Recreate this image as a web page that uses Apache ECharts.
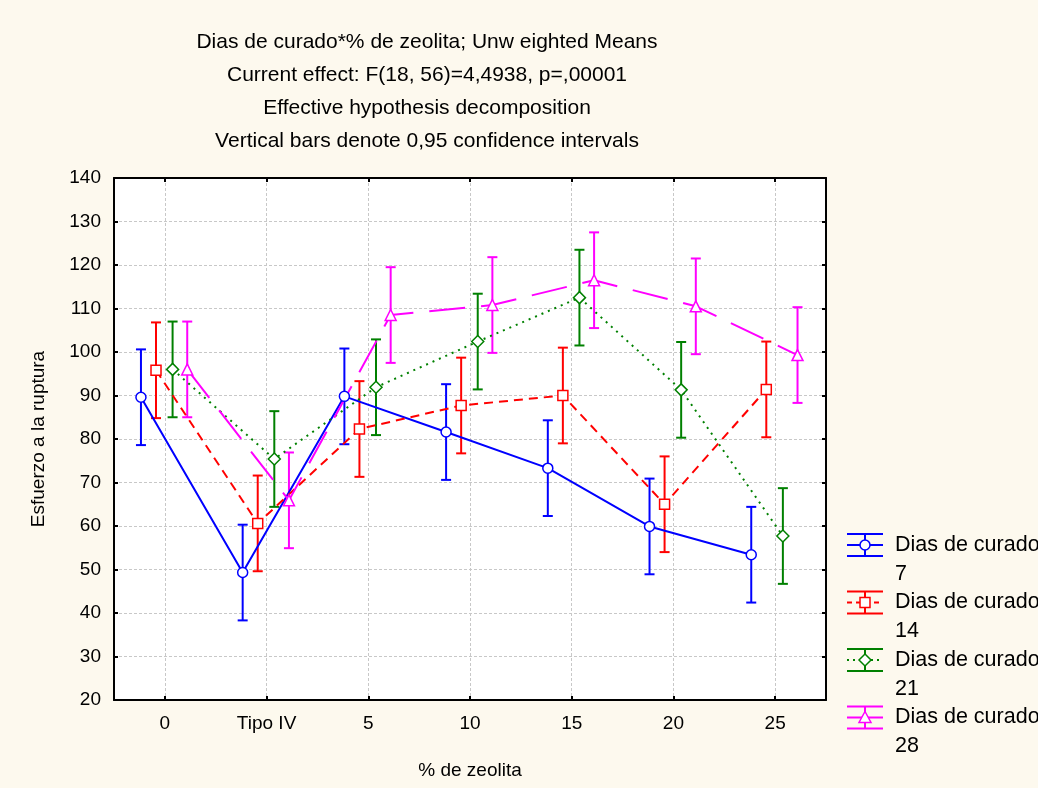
<!DOCTYPE html>
<html>
<head>
<meta charset="utf-8">
<script src="https://cdn.jsdelivr.net/npm/echarts@6/dist/echarts.min.js"></script>
<style>
html,body{margin:0;padding:0;background:#fdf9ee;}
#c{width:1038px;height:788px;}
</style>
</head>
<body>
<div id="c"></div>
<script>
// ---- data ----
const categories = ['0', 'Tipo IV', '5', '10', '15', '20', '25'];
const titleLines = [
  'Dias de curado*% de zeolita; Unw eighted Means',
  'Current effect: F(18, 56)=4,4938, p=,00001',
  'Effective hypothesis decomposition',
  'Vertical bars denote 0,95 confidence intervals'
];
const xAxisName = '% de zeolita';
const yAxisName = 'Esfuerzo a la ruptura';
const yTicks = [20, 30, 40, 50, 60, 70, 80, 90, 100, 110, 120, 130, 140];
const legendNames = ['Dias de curado\n7', 'Dias de curado\n14', 'Dias de curado\n21', 'Dias de curado\n28'];

const mean7  = [89.6, 49.3, 89.8, 81.6, 73.3, 59.9, 53.4];
const ci7    = [11.0, 11.0, 11.0, 11.0, 11.0, 11.0, 11.0];
const mean14 = [95.8, 60.6, 82.3, 87.7, 90.0, 65.0, 91.4];
const ci14   = [11.0, 11.0, 11.0, 11.0, 11.0, 11.0, 11.0];
const mean21 = [96.0, 75.4, 91.9, 102.4, 112.5, 91.3, 57.7];
const ci21   = [11.0, 11.0, 11.0, 11.0, 11.0, 11.0, 11.0];
const mean28 = [96.0, 65.9, 108.5, 110.8, 116.5, 110.5, 99.3];
const ci28   = [11.0, 11.0, 11.0, 11.0, 11.0, 11.0, 11.0];

// ---- styling ----
const FONT = 'Liberation Sans, Arial, Helvetica, sans-serif';
const groups = [
  {mean: mean7,  ci: ci7,  color: '#0000ff', symbol: 'circle',   size: 10,       dash: 'solid',  offset: -0.235},
  {mean: mean14, ci: ci14, color: '#ff0000', symbol: 'rect',     size: 10,       dash: [9, 6],   offset: -0.087},
  {mean: mean21, ci: ci21, color: '#008000', symbol: 'diamond',  size: [12, 12], dash: [2, 5],   offset: 0.076},
  {mean: mean28, ci: ci28, color: '#ff00ff', symbol: 'triangle', size: [11, 11], dash: [36, 16], offset: 0.22}
];
const tickIdx = categories.map((c, i) => i);

function errRender(color) {
  return function (params, api) {
    const x = api.value(0), lo = api.value(1), hi = api.value(2);
    const a = api.coord([x, lo]), b = api.coord([x, hi]);
    const w = 5;
    const st = {stroke: color, lineWidth: 2, fill: null};
    return {
      type: 'group',
      children: [
        {type: 'line', shape: {x1: a[0], y1: a[1], x2: b[0], y2: b[1]}, style: st},
        {type: 'line', shape: {x1: b[0] - w, y1: b[1], x2: b[0] + w, y2: b[1]}, style: st},
        {type: 'line', shape: {x1: a[0] - w, y1: a[1], x2: a[0] + w, y2: a[1]}, style: st}
      ]
    };
  };
}

const series = [];
groups.forEach((g, gi) => {
  series.push({
    type: 'custom',
    name: legendNames[gi] + ' CI',
    xAxisIndex: 0, yAxisIndex: 0,
    renderItem: errRender(g.color),
    data: g.mean.map((v, i) => [i + g.offset, v - g.ci[i], v + g.ci[i]]),
    encode: {x: 0, y: [1, 2]},
    z: 2, silent: true
  });
});
groups.forEach((g, gi) => {
  series.push({
    type: 'line',
    name: legendNames[gi],
    xAxisIndex: 0, yAxisIndex: 0,
    data: g.mean.map((v, i) => [i + g.offset, v]),
    symbol: g.symbol,
    symbolSize: g.size,
    showAllSymbol: true,
    lineStyle: {color: g.color, width: 2, type: g.dash},
    itemStyle: {color: '#ffffff', borderColor: g.color, borderWidth: 1.5},
    z: 3, silent: true
  });
});

// legend drawn as graphics
const graphic = [];
groups.forEach((g, gi) => {
  const yc = 545 + gi * 57.5;
  const x0 = 847, x1 = 883, xm = 865;
  const st = {stroke: g.color, lineWidth: 2, fill: null};
  graphic.push({type: 'line', shape: {x1: x0, y1: yc - 11, x2: x1, y2: yc - 11}, style: st, z: 10});
  graphic.push({type: 'line', shape: {x1: x0, y1: yc + 11, x2: x1, y2: yc + 11}, style: st, z: 10});
  graphic.push({type: 'line', shape: {x1: xm, y1: yc - 11, x2: xm, y2: yc + 11}, style: st, z: 10});
  const ld = g.dash === 'solid' ? null : (gi === 1 ? [5, 4] : (gi === 2 ? [2, 4] : null));
  graphic.push({type: 'line', shape: {x1: x0, y1: yc, x2: x1, y2: yc}, style: {stroke: g.color, lineWidth: 2, lineDash: ld}, z: 10});
  let mk;
  if (g.symbol === 'circle') mk = {type: 'circle', shape: {cx: xm, cy: yc, r: 5}};
  else if (g.symbol === 'rect') mk = {type: 'rect', shape: {x: xm - 5, y: yc - 5, width: 10, height: 10}};
  else if (g.symbol === 'diamond') mk = {type: 'polygon', shape: {points: [[xm, yc - 6], [xm + 6, yc], [xm, yc + 6], [xm - 6, yc]]}};
  else mk = {type: 'polygon', shape: {points: [[xm, yc - 6], [xm + 6, yc + 5], [xm - 6, yc + 5]]}};
  mk.style = {fill: '#ffffff', stroke: g.color, lineWidth: 1.5};
  mk.z = 11;
  graphic.push(mk);
  graphic.push({
    type: 'text', x: 895, y: yc - 14.5, z: 11,
    style: {text: legendNames[gi], fill: '#000', font: '21.5px ' + FONT, lineHeight: 29, verticalAlign: 'top', align: 'left'}
  });
});

const axisLineStyle = {color: '#000', width: 2};
const option = {
  animation: false,
  backgroundColor: '#fdf9ee',
  title: {
    text: titleLines.join('\n'),
    left: 427, top: 26, padding: 0,
    textAlign: 'center',
    textStyle: {fontFamily: FONT, fontSize: 21, fontWeight: 'normal', color: '#000', lineHeight: 33}
  },
  grid: {left: 114, top: 178, right: 212, bottom: 88, show: true, backgroundColor: '#ffffff', borderWidth: 0},
  xAxis: [
    {
      type: 'value', position: 'bottom', min: -0.5, max: 6.5,
      name: xAxisName, nameLocation: 'middle', nameGap: 61,
      nameTextStyle: {fontFamily: FONT, fontSize: 19, color: '#000'},
      axisLine: {show: true, onZero: false, lineStyle: axisLineStyle},
      axisTick: {show: true, inside: true, length: 4, lineStyle: {color: '#000', width: 2}, customValues: tickIdx},
      axisLabel: {show: true, margin: 14, fontFamily: FONT, fontSize: 19, color: '#000', customValues: tickIdx,
        formatter: v => categories[Math.round(v)]},
      splitLine: {show: true, lineStyle: {color: '#c8c8c8', width: 1, type: [3, 2]}}
    },
    {
      type: 'value', position: 'top', min: -0.5, max: 6.5,
      axisLine: {show: true, onZero: false, lineStyle: axisLineStyle},
      axisTick: {show: true, inside: true, length: 4, lineStyle: {color: '#000', width: 2}, customValues: tickIdx},
      axisLabel: {show: false, customValues: tickIdx},
      splitLine: {show: false}
    }
  ],
  yAxis: [
    {
      type: 'value', position: 'left', min: yTicks[0], max: yTicks[yTicks.length - 1], interval: 10,
      name: yAxisName, nameLocation: 'middle', nameGap: 66, nameRotate: 90,
      nameTextStyle: {fontFamily: FONT, fontSize: 19, color: '#000'},
      axisLine: {show: true, onZero: false, lineStyle: axisLineStyle},
      axisTick: {show: true, inside: true, length: 4, lineStyle: {color: '#000', width: 2}},
      axisLabel: {show: true, margin: 13, fontFamily: FONT, fontSize: 19, color: '#000'},
      splitLine: {show: true, lineStyle: {color: '#c8c8c8', width: 1, type: [3, 2]}}
    },
    {
      type: 'value', position: 'right', min: yTicks[0], max: yTicks[yTicks.length - 1], interval: 10,
      axisLine: {show: true, onZero: false, lineStyle: axisLineStyle},
      axisTick: {show: true, inside: true, length: 4, lineStyle: {color: '#000', width: 2}},
      axisLabel: {show: false},
      splitLine: {show: false}
    }
  ],
  graphic: graphic,
  series: series
};

const chart = echarts.init(document.getElementById('c'), null, {renderer: 'canvas'});
chart.setOption(option);
</script>
</body>
</html>
